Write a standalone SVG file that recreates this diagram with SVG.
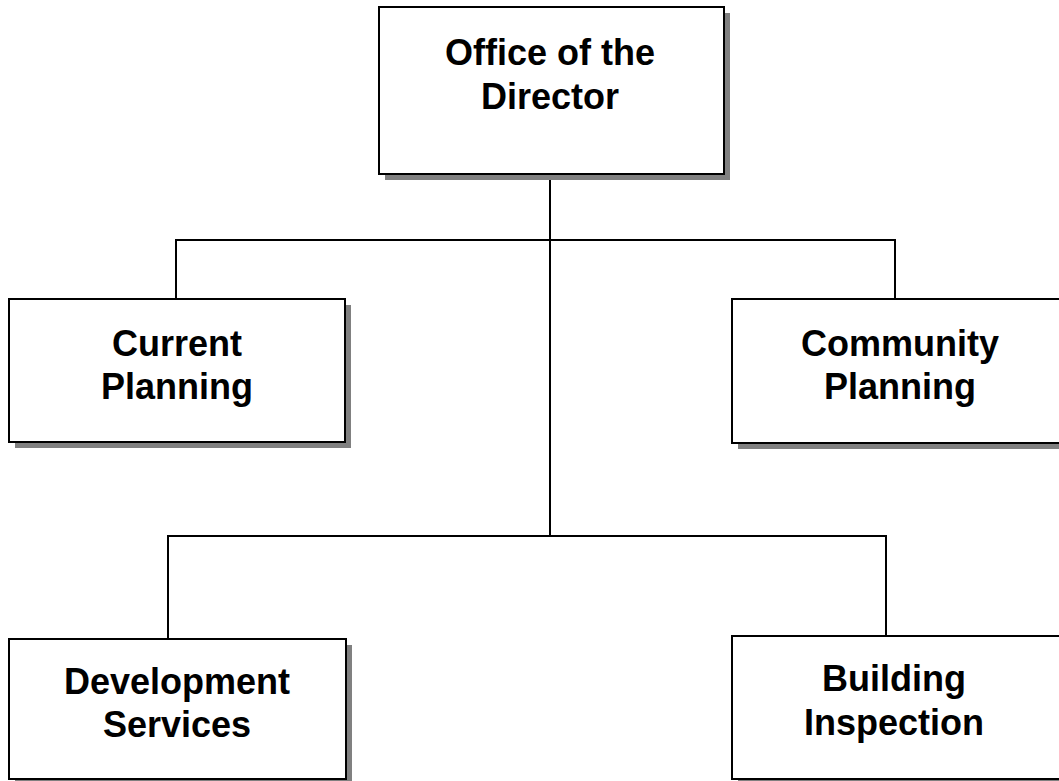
<svg xmlns="http://www.w3.org/2000/svg" width="1059" height="781" viewBox="0 0 1059 781">
<style>
.shadow{fill:#808080;stroke:none}
.box{fill:#ffffff;stroke:#000000;stroke-width:2}
.conn{fill:none;stroke:#000000;stroke-width:2}
.lbl{font-family:"Liberation Sans",Arial,sans-serif;font-weight:bold;font-size:36px;fill:#000000;text-anchor:middle}
</style>
<rect width="1059" height="781" fill="#ffffff"/>
<g id="connectors">
<path class="conn" d="M550,174 V536"/>
<path class="conn" d="M176,299 V240 H895 V299"/>
<path class="conn" d="M168,639 V536 H886 V636"/>
</g>
<g id="director">
<rect class="shadow" x="385" y="13" width="345" height="167"/>
<rect class="box" x="379" y="7" width="345" height="167"/>
<text class="lbl" x="550" y="65">Office of the</text>
<text class="lbl" x="550" y="109">Director</text>
</g>
<g id="current-planning">
<rect class="shadow" x="15" y="305" width="336" height="143"/>
<rect class="box" x="9" y="299" width="336" height="143"/>
<text class="lbl" x="177" y="356">Current</text>
<text class="lbl" x="177" y="399">Planning</text>
</g>
<g id="community-planning">
<rect class="shadow" x="738" y="305" width="336" height="144"/>
<rect class="box" x="732" y="299" width="336" height="144"/>
<text class="lbl" x="900" y="356">Community</text>
<text class="lbl" x="900" y="399">Planning</text>
</g>
<g id="development-services">
<rect class="shadow" x="15" y="645" width="337" height="140"/>
<rect class="box" x="9" y="639" width="337" height="140"/>
<text class="lbl" x="177" y="694">Development</text>
<text class="lbl" x="177" y="737">Services</text>
</g>
<g id="building-inspection">
<rect class="shadow" x="738" y="642" width="336" height="143"/>
<rect class="box" x="732" y="636" width="336" height="143"/>
<text class="lbl" x="894" y="691">Building</text>
<text class="lbl" x="894" y="735">Inspection</text>
</g>
</svg>
